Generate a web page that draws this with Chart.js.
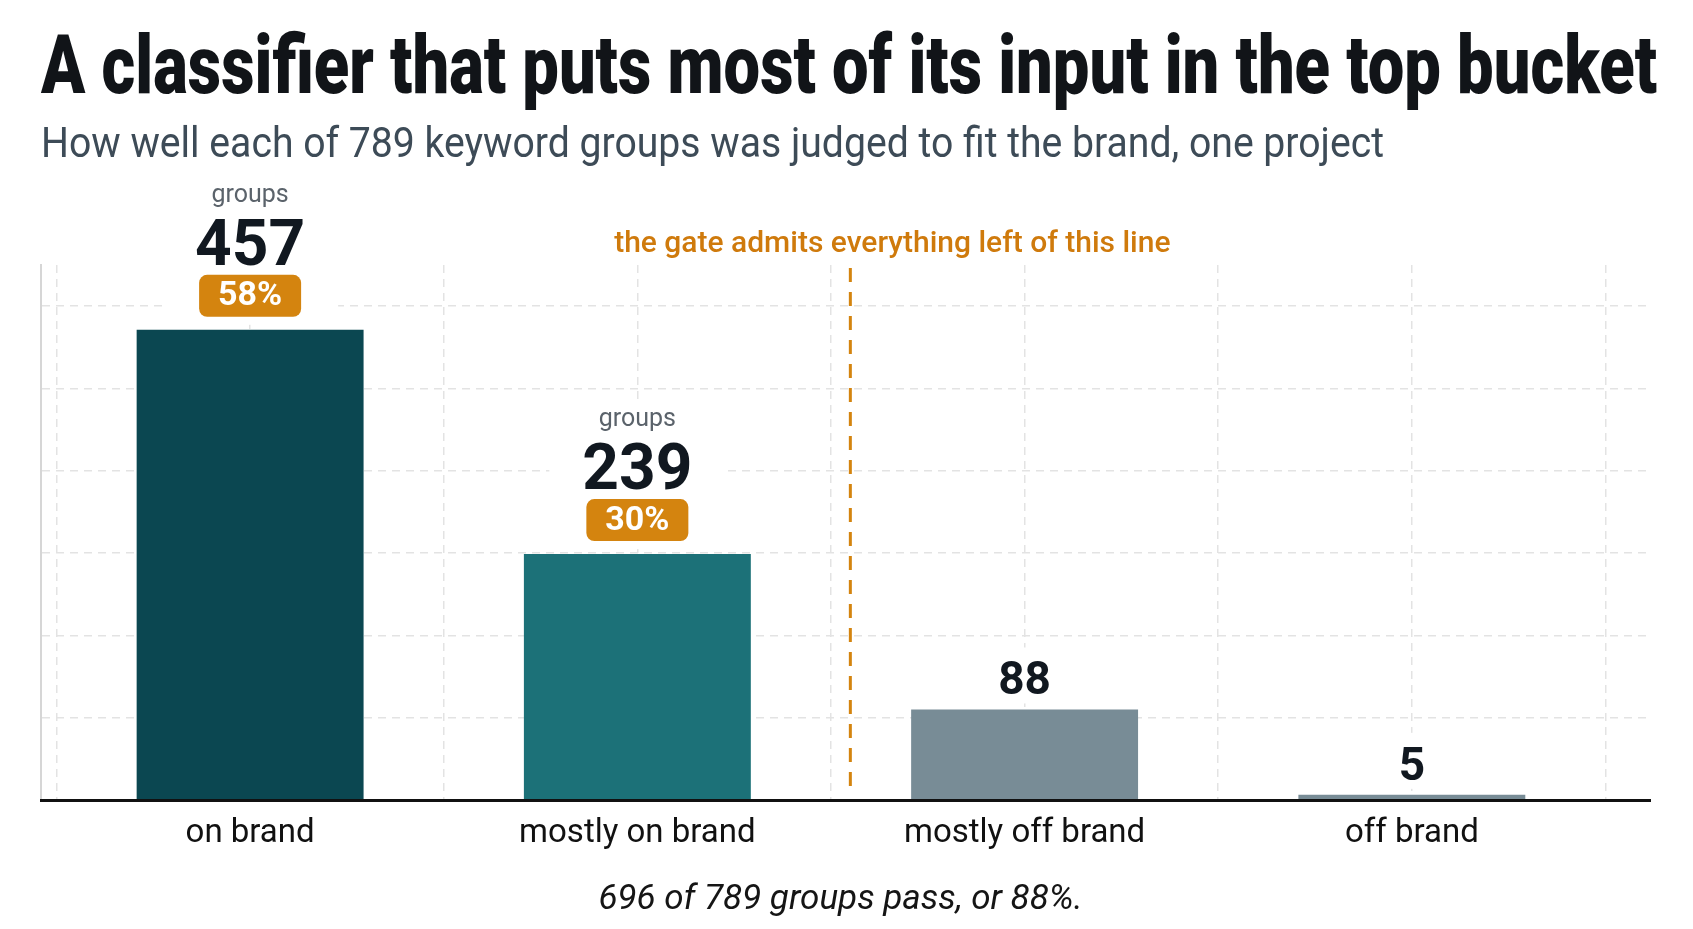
<!DOCTYPE html>
<html>
<head>
<meta charset="utf-8">
<script src="https://cdn.jsdelivr.net/npm/chart.js@4.4.1/dist/chart.umd.min.js"></script>
<style>
  html, body { margin: 0; background: #fff; }
  #wrap { position: relative; width: 1693px; height: 929px; overflow: hidden; background: #fff; }
  #chart { position: absolute; left: 0; top: 0; }
  .head { position: absolute; left: 41px; white-space: nowrap; line-height: 1; transform-origin: 0 0;
          font-family: Roboto, "Liberation Sans", sans-serif; }
  #title { top: 24px; font-size: 82px; font-weight: 900; color: #111418; }
  #subtitle { top: 122px; font-size: 42px; font-weight: 400; color: #3d4b57; }
</style>
</head>
<body>
<div id="wrap">
  <canvas id="chart" width="1693" height="929"></canvas>
  <div class="head" id="title">A classifier that puts most of its input in the top bucket</div>
  <div class="head" id="subtitle">How well each of 789 keyword groups was judged to fit the brand, one project</div>
</div>
<script>
const categories = ["on brand", "mostly on brand", "mostly off brand", "off brand"];
const counts = [457, 239, 88, 5];
const passing = [true, true, false, false];
const barColors = ["#0b4751", "#1c7178", "#788c96", "#788c96"];
const yMax = 520;
const yStep = 80;
const gateAt = 1.55; // between "mostly on brand" and "mostly off brand"

const total = counts.reduce((a, b) => a + b, 0);
const passCount = counts.filter((_, i) => passing[i]).reduce((a, b) => a + b, 0);
const orange = "#d4840f";
const font = "Roboto, 'Liberation Sans', sans-serif";

function fitWidth(id, target) {
  const el = document.getElementById(id);
  const w = el.getBoundingClientRect().width;
  el.style.transform = "scaleX(" + (target / w) + ")";
}

function roundRect(ctx, x, y, w, h, r) {
  ctx.beginPath();
  ctx.moveTo(x + r, y);
  ctx.arcTo(x + w, y, x + w, y + h, r);
  ctx.arcTo(x + w, y + h, x, y + h, r);
  ctx.arcTo(x, y + h, x, y, r);
  ctx.arcTo(x, y, x + w, y, r);
  ctx.closePath();
}

const barLabels = {
  id: "barLabels",
  afterDatasetsDraw(chart) {
    const ctx = chart.ctx;
    const area = chart.chartArea;
    const meta = chart.getDatasetMeta(0);
    ctx.save();
    ctx.textAlign = "center";

    meta.data.forEach((bar, i) => {
      const x = bar.x, top = bar.y;
      if (passing[i]) {
        ctx.fillStyle = "#fff";
        ctx.fillRect(x - 88, top - 152, 176, 147);

        ctx.fillStyle = "#5b636b";
        ctx.font = "400 25px " + font;
        ctx.textBaseline = "alphabetic";
        ctx.fillText("groups", x, top - 128);

        ctx.fillStyle = "#111820";
        ctx.font = "700 64px " + font;
        ctx.fillText(String(counts[i]), x, top - 65);

        ctx.fillStyle = orange;
        roundRect(ctx, x - 51, top - 55, 102, 42, 8);
        ctx.fill();
        ctx.fillStyle = "#fff";
        ctx.font = "700 34px " + font;
        ctx.textBaseline = "middle";
        ctx.fillText(Math.round(counts[i] / total * 100) + "%", x, top - 33);
      } else {
        ctx.fillStyle = "#fff";
        ctx.fillRect(x - 40, top - 62, 80, 56);
        ctx.fillStyle = "#111820";
        ctx.font = "700 46px " + font;
        ctx.textBaseline = "alphabetic";
        ctx.fillText(String(counts[i]), x, top - 15);
      }
    });

    // gate line
    const gx = chart.scales.x.getPixelForValue(gateAt);
    ctx.strokeStyle = orange;
    ctx.lineWidth = 3;
    ctx.setLineDash([14, 10]);
    ctx.beginPath();
    ctx.moveTo(gx, area.top + 3);
    ctx.lineTo(gx, area.bottom - 4);
    ctx.stroke();
    ctx.setLineDash([]);

    ctx.fillStyle = "#cf7a0c";
    ctx.font = "500 30px " + font;
    ctx.textBaseline = "alphabetic";
    ctx.fillText("the gate admits everything left of this line", gx + 42, area.top - 13);

    // footer
    ctx.fillStyle = "#151515";
    ctx.font = "italic 400 35px " + font;
    ctx.fillText(passCount + " of " + total + " groups pass, or " +
      Math.round(passCount / total * 100) + "%.", chart.width / 2 - 6, 909);
    ctx.restore();
  }
};

document.fonts.ready.then(() => {
  fitWidth("title", 1616);
  fitWidth("subtitle", 1343);
});

new Chart(document.getElementById("chart"), {
  type: "bar",
  data: {
    datasets: [{
      data: counts.map((v, i) => ({ x: i, y: v })),
      backgroundColor: barColors,
      borderWidth: 0,
      barPercentage: 0.586,
      categoryPercentage: 1
    }]
  },
  options: {
    responsive: false,
    animation: false,
    events: [],
    layout: { padding: { top: 265, left: 41, right: 43, bottom: 69 } },
    plugins: { legend: { display: false }, tooltip: { enabled: false } },
    scales: {
      x: {
        type: "linear",
        offset: false,
        min: -0.54,
        max: 3.615,
        afterBuildTicks: (axis) => { axis.ticks = categories.map((_, i) => ({ value: i })); },
        afterFit: (axis) => { axis.height = 60; },
        ticks: {
          autoSkip: false,
          maxRotation: 0,
          padding: 14,
          color: "#111",
          font: { family: font, size: 33 },
          callback: (v) => categories[v]
        },
        grid: { display: false, drawTicks: false, offset: false },
        border: { display: true, color: "#111", width: 3, z: 1 }
      },
      x2: {
        type: "linear",
        position: "top",
        offset: false,
        min: -0.54,
        max: 3.615,
        afterBuildTicks: (axis) => {
          const t = [];
          for (let v = -0.5; v <= 3.5; v += 0.5) t.push({ value: v });
          axis.ticks = t;
        },
        afterFit: (axis) => { axis.height = 0; },
        ticks: { display: false },
        grid: { color: "#e3e3e3", lineWidth: 1.5, drawTicks: false, offset: false },
        border: { display: false, dash: [8, 6] }
      },
      y: {
        min: 0,
        max: yMax,
        ticks: { display: false, stepSize: yStep },
        grid: {
          drawTicks: false,
          lineWidth: 1.5,
          color: (c) => (c.tick && c.tick.value % yStep === 0 && c.tick.value > 0) ? "#e3e3e3" : "rgba(0,0,0,0)"
        },
        border: { display: true, color: "#d6d6d6", width: 2, dash: [8, 6] }
      }
    }
  },
  plugins: [barLabels]
});
</script>
</body>
</html>
